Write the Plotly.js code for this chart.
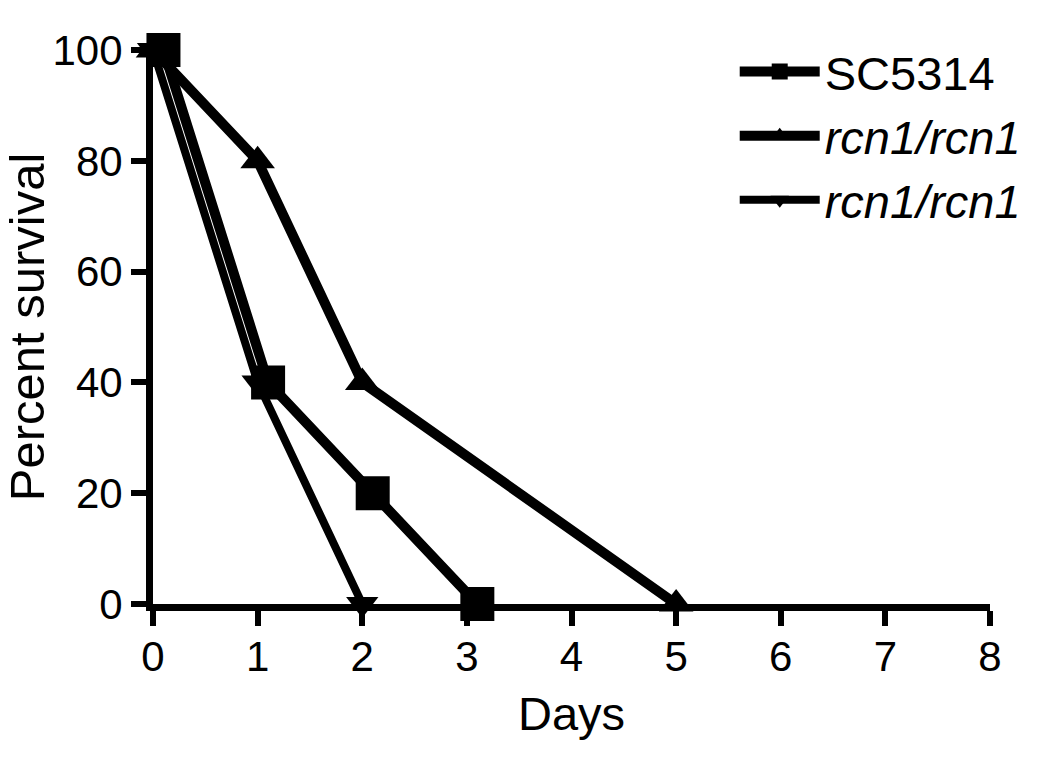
<!DOCTYPE html>
<html>
<head>
<meta charset="utf-8">
<script src="https://cdn.plot.ly/plotly-3.0.1.min.js"></script>
<style>html,body{margin:0;padding:0;background:#fff;}#chart{width:1050px;height:760px;}</style>
</head>
<body>
<div id="chart"></div>
<script>
// Data
const scDays = [0, 1, 2, 3];
const scSurvival = [100, 40, 20, 0];
const rcnADays = [0, 1, 2, 5];
const rcnASurvival = [100, 80, 40, 0];
const rcnBDays = [0, 1, 2];
const rcnBSurvival = [100, 40, 0];
const seriesNames = ['SC5314', '<i>rcn1/rcn1</i>', '<i>rcn1/rcn1</i>'];
const xTicks = [0, 1, 2, 3, 4, 5, 6, 7, 8];
const yTicks = [0, 20, 40, 60, 80, 100];

const scShift = 0.1; // small horizontal nudge of the SC5314 symbols, as in the original

const traces = [
  {
    x: scDays.map(d => d + scShift), y: scSurvival, name: seriesNames[0],
    mode: 'lines+markers', type: 'scatter', cliponaxis: false,
    line: {color: '#000', width: 10},
    marker: {symbol: 'square', size: 34, color: '#000'}
  },
  {
    x: rcnADays, y: rcnASurvival, name: seriesNames[1],
    mode: 'lines+markers', type: 'scatter', cliponaxis: false,
    line: {color: '#000', width: 10},
    marker: {symbol: 'triangle-up', size: 30, color: '#000'}
  },
  {
    x: rcnBDays, y: rcnBSurvival, name: seriesNames[2],
    mode: 'lines+markers', type: 'scatter', cliponaxis: false,
    line: {color: '#000', width: 8},
    marker: {symbol: 'triangle-down', size: 28, color: '#000'}
  }
];

const fontFam = '"Liberation Sans", Arial, Helvetica, sans-serif';

const layout = {
  width: 1050, height: 760,
  paper_bgcolor: '#fff', plot_bgcolor: '#fff',
  margin: {l: 153, r: 60, t: 50, b: 156},
  font: {family: fontFam, color: '#000'},
  showlegend: true,
  legend: {
    x: 0.695, y: 1.028, xanchor: 'left', yanchor: 'top',
    font: {size: 47, family: fontFam, color: '#000'},
    bgcolor: 'rgba(0,0,0,0)', itemwidth: 80
  },
  xaxis: {
    range: [0, 8], tickvals: xTicks, ticktext: xTicks.map(String),
    showgrid: false, zeroline: false,
    showline: true, linecolor: '#000', linewidth: 7,
    ticks: 'outside', ticklen: 15, tickwidth: 6, tickcolor: '#000',
    ticklabelstandoff: -5,
    tickfont: {size: 42, family: fontFam, color: '#000'},
    title: {text: 'Days', font: {size: 47, family: fontFam, color: '#000'}, standoff: 20}
  },
  yaxis: {
    range: [0, 100], tickvals: yTicks, ticktext: yTicks.map(String),
    showgrid: false, zeroline: false, automargin: true,
    showline: true, linecolor: '#000', linewidth: 7,
    ticks: 'outside', ticklen: 15, tickwidth: 6, tickcolor: '#000',
    tickfont: {size: 42, family: fontFam, color: '#000'},
    title: {text: 'Percent survival', font: {size: 49, family: fontFam, color: '#000'}, standoff: 2}
  }
};

Plotly.newPlot('chart', traces, layout, {displayModeBar: false, staticPlot: true});
</script>
</body>
</html>
